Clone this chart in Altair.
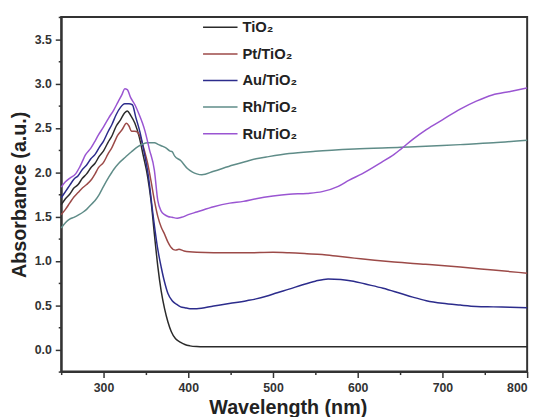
import altair as alt
import pandas as pd

series_names = ["TiO₂", "Pt/TiO₂", "Au/TiO₂", "Rh/TiO₂", "Ru/TiO₂"]
colors = ["#2b2b2b", "#9c4a48", "#2c2c8c", "#5f8c88", "#9a55d2"]

tio2_wl = [250, 255, 260, 265, 270, 275, 280, 285, 290, 295, 300, 305, 310, 315, 320, 325, 328, 332, 337,
           342, 347, 352, 356, 360, 364, 368, 372, 376, 380, 385, 391, 396, 402, 410, 418, 450, 500, 600, 700, 800]
tio2_abs = [1.63, 1.70, 1.75, 1.82, 1.86, 1.93, 1.98, 2.05, 2.10, 2.18, 2.24, 2.33, 2.41, 2.52, 2.59, 2.67, 2.69,
            2.64, 2.55, 2.40, 2.18, 1.95, 1.68, 1.30, 0.94, 0.66, 0.46, 0.31, 0.20, 0.12, 0.08, 0.055, 0.04,
            0.032, 0.03, 0.03, 0.03, 0.03, 0.03, 0.03]

pt_wl = [250, 255, 260, 265, 270, 275, 280, 286, 290, 294, 300, 305, 310, 317, 322, 327, 330, 333, 337, 340,
         344, 348, 352, 356, 360, 364, 368, 372, 376, 379, 385, 389, 395, 410, 430, 469, 500, 519, 540, 558,
         577, 596, 620, 643, 680, 721, 760, 800]
pt_abs = [1.52, 1.58, 1.65, 1.72, 1.77, 1.82, 1.86, 1.92, 1.98, 2.05, 2.11, 2.20, 2.28, 2.42, 2.48, 2.55, 2.52,
          2.46, 2.46, 2.45, 2.38, 2.25, 2.10, 1.90, 1.68, 1.50, 1.38, 1.30, 1.21, 1.16, 1.12, 1.13, 1.11, 1.095,
          1.09, 1.09, 1.095, 1.09, 1.08, 1.07, 1.05, 1.03, 1.005, 0.985, 0.96, 0.93, 0.895, 0.86]

au_wl = [250, 255, 260, 265, 270, 275, 280, 285, 290, 295, 300, 305, 310, 315, 320, 325, 330, 334, 338, 343,
         348, 353, 358, 364, 368, 372, 376, 381, 386, 391, 396, 402, 410, 430, 450, 469, 480, 492, 505, 519,
         535, 550, 565, 580, 595, 608, 630, 651, 665, 681, 700, 721, 740, 760, 780, 800]
au_abs = [1.71, 1.78, 1.85, 1.92, 1.96, 2.03, 2.08, 2.15, 2.20, 2.28, 2.35, 2.45, 2.54, 2.65, 2.73, 2.77, 2.77,
          2.76, 2.62, 2.45, 2.22, 1.95, 1.55, 1.13, 0.93, 0.76, 0.63, 0.55, 0.51, 0.48, 0.47, 0.46, 0.46, 0.49,
          0.52, 0.55, 0.57, 0.60, 0.64, 0.68, 0.73, 0.77, 0.795, 0.79, 0.77, 0.74, 0.69, 0.63, 0.59, 0.55,
          0.52, 0.50, 0.485, 0.48, 0.475, 0.47]

rh_wl = [250, 255, 260, 265, 271, 276, 280, 286, 290, 295, 300, 306, 312, 318, 326, 333, 341, 347, 352, 360,
         365, 370, 374, 378, 381, 384, 391, 399, 405, 410, 416, 430, 453, 468, 480, 492, 519, 550, 596, 651,
         700, 721, 760, 800]
rh_abs = [1.37, 1.43, 1.47, 1.49, 1.52, 1.55, 1.58, 1.64, 1.68, 1.75, 1.84, 1.94, 2.03, 2.10, 2.17, 2.23, 2.29,
          2.32, 2.33, 2.33, 2.31, 2.29, 2.27, 2.24, 2.23, 2.18, 2.13, 2.04, 2.00, 1.98, 1.97, 2.01, 2.08, 2.12,
          2.15, 2.17, 2.21, 2.235, 2.26, 2.28, 2.30, 2.31, 2.33, 2.36]

ru_wl = [250, 255, 260, 267, 272, 279, 285, 290, 294, 300, 306, 312, 317, 322, 325, 328, 332, 337, 342, 346,
         349, 354, 360, 364, 368, 372, 376, 381, 387, 392, 400, 410, 430, 449, 465, 480, 500, 519, 540, 558,
         577, 590, 605, 628, 643, 651, 665, 681, 700, 721, 740, 759, 780, 800]
ru_abs = [1.83, 1.89, 1.93, 1.98, 2.06, 2.20, 2.27, 2.35, 2.42, 2.51, 2.61, 2.70, 2.79, 2.88, 2.94, 2.93, 2.84,
          2.76, 2.65, 2.55, 2.46, 2.26, 2.02, 1.68, 1.56, 1.52, 1.50, 1.49, 1.48, 1.49, 1.52, 1.55, 1.61, 1.65,
          1.67, 1.70, 1.73, 1.75, 1.76, 1.78, 1.84, 1.91, 1.98, 2.11, 2.20, 2.26, 2.37, 2.48, 2.59, 2.71, 2.80,
          2.87, 2.91, 2.95]

x_ticks = [250, 300, 350, 400, 450, 500, 550, 600, 650, 700, 750, 800]
y_ticks = [-0.25, 0.0, 0.25, 0.5, 0.75, 1.0, 1.25, 1.5, 1.75, 2.0, 2.25, 2.5, 2.75, 3.0, 3.25, 3.5, 3.75]

rows = []
for name, wl, ab in zip(series_names,
                        [tio2_wl, pt_wl, au_wl, rh_wl, ru_wl],
                        [tio2_abs, pt_abs, au_abs, rh_abs, ru_abs]):
    for w, a in zip(wl, ab):
        rows.append({"Series": name, "Wavelength": w, "Absorbance": a})
df = pd.DataFrame(rows)

FONT = "Liberation Sans"

chart = alt.Chart(df).mark_line(strokeWidth=1.5, interpolate="monotone").encode(
    x=alt.X("Wavelength:Q",
            scale=alt.Scale(domain=[250, 800], nice=False, zero=False),
            axis=alt.Axis(values=x_ticks, title="Wavelength (nm)",
                          labelExpr="datum.value % 100 === 0 ? datum.value : ''",
                          tickSize={"condition": {"test": "datum.value % 100 === 0", "value": 6}, "value": 3},
                          labelOverlap=False, labelPadding=4, grid=False,
                          titleX=230, titleY=27)),
    y=alt.Y("Absorbance:Q",
            scale=alt.Scale(domain=[-0.25, 3.75], nice=False, zero=False),
            axis=alt.Axis(values=y_ticks, title="Absorbance (a.u.)",
                          labelExpr="datum.value % 0.5 === 0 ? format(datum.value, '.1f') : ''",
                          tickSize={"condition": {"test": "datum.value % 0.5 === 0", "value": 6}, "value": 3},
                          labelOverlap=False, labelPadding=4, grid=False,
                          titleX=-32, titleY=180)),
    color=alt.Color("Series:N", sort=series_names,
                    scale=alt.Scale(domain=series_names, range=colors),
                    legend=alt.Legend(orient="none", legendX=143, legendY=-8, title=None,
                                      symbolType="stroke", symbolSize=1225, symbolStrokeWidth=1.5,
                                      labelFont=FONT, labelFontSize=15, labelFontWeight="bold",
                                      labelColor="#222", rowPadding=-1, labelOffset=4, padding=0)),
).properties(
    width=473, height=360,
    autosize=alt.AutoSizeParams(type="none"),
    padding={"left": 54, "top": 6, "right": 10, "bottom": 43},
).configure_view(
    stroke="#333", strokeWidth=2
).configure_axis(
    domainColor="#333", domainWidth=2, tickColor="#333", tickWidth=1.5,
    labelFont=FONT, labelFontSize=12.5, labelFontWeight="bold", labelColor="#333",
    titleFont=FONT, titleFontSize=20, titleFontWeight="bold", titleColor="#222",
)

chart.save("out.html", embed_options={"renderer": "svg", "actions": False})
